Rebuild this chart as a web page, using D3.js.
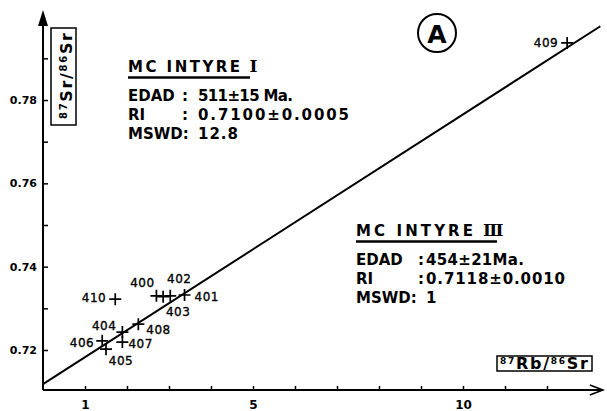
<!DOCTYPE html>
<html>
<head>
<meta charset="utf-8">
<script src="https://cdn.jsdelivr.net/npm/d3@7"></script>
<style>
  html, body { margin: 0; padding: 0; background: #fff; }
  svg { display: block; font-family: "DejaVu Sans", sans-serif; }
</style>
</head>
<body>
<div id="chart"></div>
<script>
// Rb-Sr isochron, Mc Intyre samples (panel A).

const sampleIds = ["400", "401", "402", "403", "404", "405", "406", "407", "408", "409", "410"];
const rbSr = [2.70, 3.37, 3.03, 2.86, 1.89, 1.50, 1.41, 1.89, 2.27, 12.48, 1.72];
const srSr = [0.7330, 0.7332, 0.7330, 0.7328, 0.7243, 0.7202, 0.7222, 0.7219, 0.7262, 0.7937, 0.7322];

// isochron end points
const isoX = [0, 13.27];
const isoY = [0.7118, 0.7977];

const xTicks = [1, 2, 3, 4, 5, 6, 7, 8, 9, 10, 11, 12];
const xTickLabels = [1, 5, 10];
const yTicks = [0.72, 0.73, 0.74, 0.75, 0.76, 0.77, 0.78, 0.79];
const yTickLabels = [0.72, 0.74, 0.76, 0.78];

const rowNames = ["EDAD", "RI", "MSWD:"];
const valuesI = ["511\u00b115 Ma.", "0.7100\u00b10.0005", "12.8"];
const valuesIII = ["454\u00b121Ma.", "0.7118\u00b10.0010", "1"];

// label placement around each cross: [dx, dy, anchor]
const labelPos = {
  "400": [-14, -13, "middle"], "401": [10, 2, "start"], "402": [9, -17, "middle"],
  "403": [15, 15, "middle"], "404": [-6, -6, "end"], "405": [15, 12, "middle"],
  "406": [-8, 2, "end"], "407": [6, 2, "start"], "408": [8, 6, "start"],
  "409": [-9, 0, "end"], "410": [-9, -1, "end"]
};

const W = 607, H = 411;
const svg = d3.select("#chart").append("svg").attr("width", W).attr("height", H);

const x = d3.scaleLinear().domain([0, 10]).range([43, 463]);
const y = d3.scaleLinear().domain([0.72, 0.78]).range([350, 100]);
const xEnd = 13.33, yLow = 0.7104, yTop = 0.8016;

// axes lines + arrows
const ax = svg.append("g").attr("stroke", "#000").attr("fill", "none").attr("stroke-width", 2);
ax.append("line").attr("x1", x(0)).attr("x2", x(xEnd)).attr("y1", y(yLow)).attr("y2", y(yLow));
ax.append("line").attr("x1", x(0)).attr("x2", x(0)).attr("y1", y(yLow)).attr("y2", y(yTop) + 6);
ax.append("path").attr("stroke-width", 1.6)
  .attr("d", `M${x(xEnd) - 13},${y(yLow) - 5}L${x(xEnd)},${y(yLow)}L${x(xEnd) - 13},${y(yLow) + 5}`);
svg.append("path").attr("fill", "#000")
  .attr("d", `M${x(0)},${y(yTop)}L${x(0) - 5},${y(yTop) + 16}L${x(0) + 5},${y(yTop) + 16}Z`);

const xAxis = svg.append("g").attr("transform", `translate(0,${y(yLow)})`)
  .call(d3.axisBottom(x).tickValues(xTicks).tickSizeInner(-4).tickSizeOuter(0).tickPadding(10)
    .tickFormat(d => xTickLabels.includes(d) ? d : ""));
const yAxis = svg.append("g").attr("transform", `translate(${x(0)},0)`)
  .call(d3.axisLeft(y).tickValues(yTicks).tickSizeInner(-5).tickSizeOuter(0).tickPadding(6)
    .tickFormat(d => yTickLabels.some(v => Math.abs(v - d) < 1e-9) ? d3.format(".2f")(d) : ""));
[xAxis, yAxis].forEach(g => {
  g.select(".domain").remove();
  g.selectAll(".tick line").attr("stroke", "#000").attr("stroke-width", 1.5);
  g.selectAll(".tick text").attr("fill", "#000").style("font-family", "DejaVu Sans")
    .style("font-weight", "bold");
});
xAxis.selectAll(".tick text").style("font-size", "12px");
yAxis.selectAll(".tick text").style("font-size", "11px");

// isochron
svg.append("line")
  .attr("x1", x(isoX[0])).attr("y1", y(isoY[0]))
  .attr("x2", x(isoX[1])).attr("y2", y(isoY[1]))
  .attr("stroke", "#000").attr("stroke-width", 2);

// samples
const pts = sampleIds.map((id, i) => ({ id, x: rbSr[i], y: srSr[i] }));
const g = svg.append("g").selectAll("g").data(pts).join("g")
  .attr("transform", d => `translate(${x(d.x)},${y(d.y)})`);
g.append("path").attr("d", "M-6,0H6M0,-6V6").attr("stroke", "#000").attr("stroke-width", 1.7);
g.append("text")
  .attr("x", d => labelPos[d.id][0]).attr("y", d => labelPos[d.id][1])
  .attr("text-anchor", d => labelPos[d.id][2]).attr("dominant-baseline", "central")
  .attr("stroke", "#000").attr("stroke-width", 0.35)
  .style("font-size", "12px").style("letter-spacing", "0.5px").text(d => d.id);

// annotation blocks: title width, colon offset and value widths
function block(x0, y0, numeral, titleW, colonDx, values, widths) {
  const b = svg.append("g").attr("fill", "#000").style("font-weight", "bold");
  const t = b.append("text").attr("x", x0).attr("y", y0).style("font-size", "15px");
  t.append("tspan").attr("textLength", titleW - (numeral.length > 1 ? 24 : 10))
    .attr("lengthAdjust", "spacing").text("MC INTYRE");
  t.append("tspan").attr("dx", 7).style("font-family", "DejaVu Serif").style("font-size", "17px")
    .style("letter-spacing", numeral.length > 1 ? "-1.8px" : "0").text(numeral);
  b.append("line").attr("x1", x0).attr("x2", x0 + titleW).attr("y1", y0 + 5.5).attr("y2", y0 + 5.5)
    .attr("stroke", "#000").attr("stroke-width", 2.4);
  rowNames.forEach((name, i) => {
    const yy = y0 + 29 + i * 19;
    b.append("text").attr("x", x0).attr("y", yy).style("font-size", "15px").text(name);
    if (i < 2) b.append("text").attr("x", x0 + colonDx).attr("y", yy).style("font-size", "15px").text(":");
    b.append("text").attr("x", x0 + 70).attr("y", yy).style("font-size", "15px")
      .attr("textLength", widths[i]).attr("lengthAdjust", "spacing").text(values[i]);
  });
}
block(128, 72, "I", 122, 54, valuesI, [95, 151, 40]);
block(356, 236, "III", 141, 62, valuesIII, [98, 139, 6]);

// panel letter
svg.append("circle").attr("cx", 437).attr("cy", 33).attr("r", 19)
  .attr("fill", "none").attr("stroke", "#000").attr("stroke-width", 2);
svg.append("text").attr("x", 437).attr("y", 34).attr("text-anchor", "middle")
  .attr("dominant-baseline", "central").style("font-size", "25px").style("font-weight", "bold").text("A");

// axis title boxes
function ratioLabel(sel, a, b, big, small) {
  sel.style("font-weight", "bold");
  sel.append("tspan").style("font-size", small + "px").attr("dy", -5).text("87");
  sel.append("tspan").style("font-size", big + "px").attr("dy", 5).text(a + "/");
  sel.append("tspan").style("font-size", small + "px").attr("dy", -5).text("86");
  sel.append("tspan").style("font-size", big + "px").attr("dy", 5).text(b);
}
svg.append("rect").attr("x", 51).attr("y", 28).attr("width", 25).attr("height", 97)
  .attr("fill", "#fff").attr("stroke", "#000").attr("stroke-width", 1.5);
ratioLabel(svg.append("text").attr("transform", "translate(72,76) rotate(-90)")
  .attr("text-anchor", "middle").attr("textLength", 86).attr("lengthAdjust", "spacing"), "Sr", "Sr", 16, 10);
svg.append("rect").attr("x", 497).attr("y", 356).attr("width", 95).attr("height", 15)
  .attr("fill", "#fff").attr("stroke", "#000").attr("stroke-width", 1.5);
ratioLabel(svg.append("text").attr("x", 544).attr("y", 368.5)
  .attr("text-anchor", "middle").attr("textLength", 88).attr("lengthAdjust", "spacing"), "Rb", "Sr", 16, 9);
</script>
</body>
</html>
